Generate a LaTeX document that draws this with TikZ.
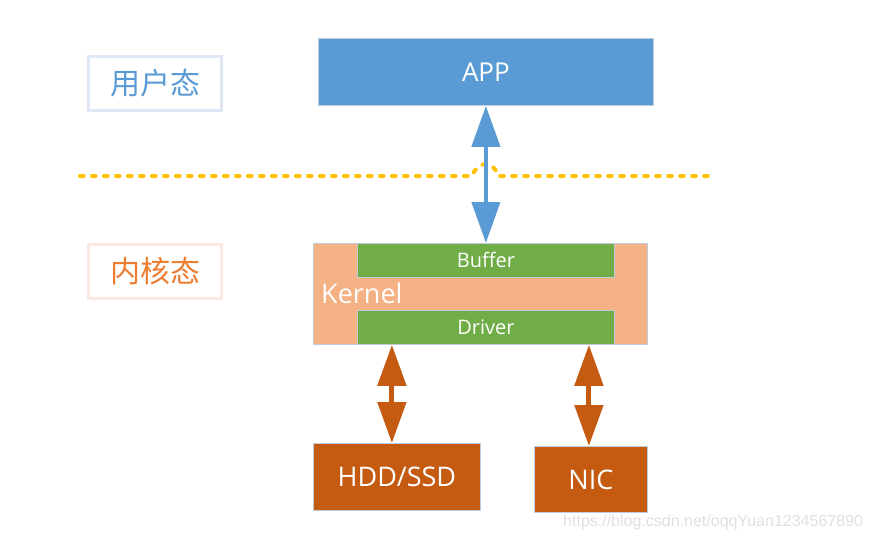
\documentclass[tikz,border=0pt]{standalone}
\usepackage{fontspec}
\setmainfont{Open Sans}
\newfontfamily\cjkfont{Noto Sans CJK SC}
\newfontfamily\markfont{Liberation Sans}
\usepackage{tikz}
\usetikzlibrary{arrows.meta, calc}
\definecolor{appblue}{RGB}{91, 155, 213}
\definecolor{userframe}{RGB}{222, 231, 245}
\definecolor{kernframe}{RGB}{251, 232, 224}
\definecolor{kernlabel}{RGB}{237, 125, 49}
\definecolor{kernfill}{RGB}{244, 177, 131}
\definecolor{bufgreen}{RGB}{112, 173, 71}
\definecolor{devbrown}{RGB}{197, 90, 17}
\definecolor{lineyellow}{RGB}{255, 192, 0}
\definecolor{edgegray}{RGB}{190, 205, 222}

\begin{document}
\begin{tikzpicture}[x=1pt, y=-1pt,
  box/.style={anchor=north west, inner sep=0pt, text=white, draw=edgegray, line width=0.8pt},
  modebox/.style={anchor=north west, inner sep=0pt, fill=white, line width=3pt,
    minimum width=133pt, minimum height=54pt, font=\cjkfont\fontsize{30}{30}\selectfont},
  big/.style={font=\fontsize{27}{27}\selectfont},
  small/.style={font=\fontsize{20}{20}\selectfont},
  bigtip/.style={{Triangle[width=28pt, length=41pt]}-{Triangle[width=28pt, length=41pt]}}]
  \useasboundingbox[fill=white] (0, 0) rectangle (872, 541);

  % mode labels
  \node[modebox, draw=userframe, text=appblue] (user) at (87, 55) {用户态};
  \node[modebox, draw=kernframe, text=kernlabel] (kmode) at (87, 243) {内核态};

  % user space
  \node[box, fill=appblue, minimum width=335pt, minimum height=67pt, font=\fontsize{26}{26}\selectfont] (app) at (318, 38) {APP};

  % kernel
  \node[box, fill=kernfill, minimum width=334pt, minimum height=101pt] (kernel) at (313, 243) {};
  \node[anchor=west, text=white, big, inner sep=0pt] (klabel) at (321, 293) {Kernel};
  \node[box, fill=bufgreen, minimum width=257pt, minimum height=34pt, small] (buffer) at (357, 243) {Buffer};
  \node[box, fill=bufgreen, minimum width=257pt, minimum height=34pt, small] (driver) at (357, 310) {Driver};

  % devices
  \node[box, fill=devbrown, minimum width=167pt, minimum height=67pt, big] (hdd) at (313, 443) {HDD/SSD};
  \node[box, fill=devbrown, minimum width=113pt, minimum height=66pt, big] (nic) at (534, 446) {NIC};

  % user / kernel border
  \draw[lineyellow, line width=4pt, line cap=round, dash pattern=on 3.5pt off 8.5pt]
    (80, 176) -- (472, 176) .. controls (478, 160) and (494, 160) .. (498, 176) -- (708, 176);

  % arrows
  \draw[appblue, line width=4pt, bigtip] (app.south) -- (buffer.north);
  \draw[devbrown, line width=5pt, bigtip] ([xshift=-5pt]driver.south -| hdd.north) -- ([xshift=-5pt]hdd.north);
  \draw[devbrown, line width=5pt, bigtip] ([xshift=-2pt]driver.south -| nic.north) -- ([xshift=-2pt]nic.north);

  \node[anchor=west, text=black!12, font=\markfont\fontsize{16}{16}\selectfont, inner sep=0pt] (mark) at (563, 522)
    {https://blog.csdn.net/oqqYuan1234567890};
\end{tikzpicture}
\end{document}
